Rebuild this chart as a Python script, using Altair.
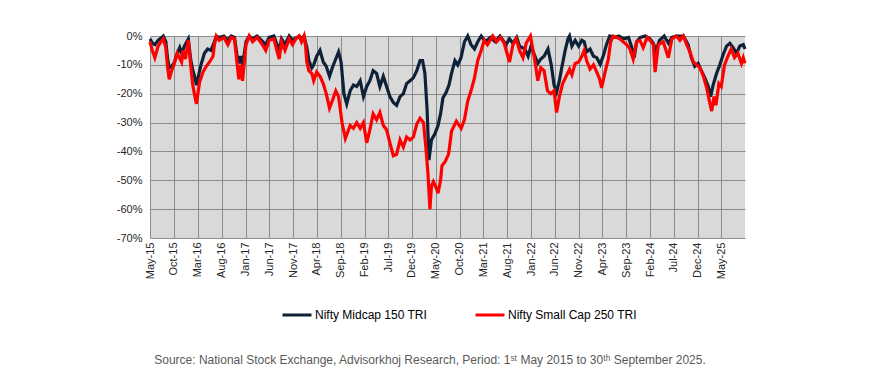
import altair as alt
import pandas as pd

# ---------------- data ----------------
series_names = ["Nifty Midcap 150 TRI", "Nifty Small Cap 250 TRI"]
series_colors = ["#0D2137", "#FF0000"]

mid_dates = [
    "2015-05-01", "2015-05-16", "2015-06-01", "2015-06-22", "2015-07-25", "2015-08-10", "2015-08-22",
    "2015-09-01", "2015-09-16", "2015-10-01", "2015-10-19", "2015-11-07", "2015-11-19", "2015-12-07",
    "2016-01-01", "2016-01-16", "2016-01-28", "2016-02-10", "2016-02-22", "2016-03-01", "2016-03-22",
    "2016-04-13", "2016-05-04", "2016-05-25", "2016-06-16", "2016-06-28", "2016-07-16", "2016-08-16",
    "2016-09-10", "2016-10-01", "2016-10-22", "2016-11-07", "2016-11-19", "2016-12-01", "2016-12-13",
    "2017-01-04", "2017-01-25", "2017-02-15", "2017-03-16", "2017-05-10", "2017-06-01", "2017-07-01",
    "2017-08-04", "2017-08-19", "2017-09-10", "2017-10-07", "2017-10-28", "2017-12-10", "2017-12-25",
    "2018-01-10", "2018-01-19", "2018-01-28", "2018-02-10", "2018-03-01", "2018-03-13", "2018-04-01",
    "2018-04-22", "2018-05-13", "2018-06-01", "2018-06-22", "2018-07-10", "2018-07-28", "2018-08-19",
    "2018-09-04", "2018-09-22", "2018-10-10", "2018-11-01", "2018-11-22", "2018-12-13", "2019-01-04",
    "2019-01-25", "2019-02-15", "2019-03-07", "2019-03-28", "2019-04-19", "2019-05-10", "2019-06-01",
    "2019-06-22", "2019-07-13", "2019-08-04", "2019-08-25", "2019-09-16", "2019-10-07", "2019-10-28",
    "2019-11-19", "2019-12-10", "2020-01-01", "2020-01-22", "2020-02-07", "2020-02-22", "2020-03-07",
    "2020-03-19", "2020-04-04", "2020-04-25", "2020-05-16", "2020-06-01", "2020-06-16", "2020-07-07",
    "2020-07-25", "2020-08-10", "2020-09-01", "2020-09-19", "2020-10-10", "2020-11-01", "2020-11-22",
    "2020-12-13", "2021-01-04", "2021-01-25", "2021-02-16", "2021-03-16", "2021-04-16", "2021-05-16",
    "2021-06-16", "2021-07-25", "2021-08-16", "2021-09-07", "2021-10-01", "2021-10-19", "2021-11-22",
    "2021-12-13", "2022-01-01", "2022-01-22", "2022-02-13", "2022-03-04", "2022-03-25", "2022-04-19",
    "2022-05-10", "2022-05-28", "2022-06-13", "2022-07-01", "2022-07-16", "2022-08-07", "2022-08-25",
    "2022-09-04", "2022-09-19", "2022-10-10", "2022-11-01", "2022-11-22", "2022-12-07", "2022-12-22",
    "2023-01-13", "2023-02-04", "2023-02-25", "2023-03-19", "2023-04-10", "2023-04-28", "2023-05-19",
    "2023-06-16", "2023-07-16", "2023-08-16", "2023-09-16", "2023-10-07", "2023-10-22", "2023-11-07",
    "2023-12-01", "2024-01-01", "2024-02-01", "2024-02-22", "2024-03-10", "2024-04-01", "2024-05-01",
    "2024-05-28", "2024-06-19", "2024-07-19", "2024-09-01", "2024-10-01", "2024-10-22", "2024-11-13",
    "2024-12-04", "2024-12-25", "2025-01-16", "2025-02-07", "2025-02-22", "2025-03-10", "2025-04-01",
    "2025-04-22", "2025-05-13", "2025-06-04", "2025-06-25", "2025-07-16", "2025-08-07", "2025-08-28",
    "2025-09-19", "2025-09-30",
]
mid_vals = [
    -1, -2.5, -3, -1.5, 0, -2, -8,
    -11, -10.5, -9.5, -6.5, -4, -6, -3.5,
    -1, -8, -11.5, -14, -17, -15, -10,
    -6, -4.5, -5, -2, 0, -0.5, 0,
    -1.5, 0, -0.5, -6.5, -9.5, -7, -10,
    -2, 0, -1, 0, -3, -0.5, 0,
    -5, -1, -3, 0, -1.5, 0, -1,
    0, -2, -4, -8.5, -11, -10, -7,
    -5, -9, -10.5, -14, -11, -8.5, -5.5,
    -9, -20, -23.5, -19, -17, -17.5, -15.5,
    -21, -17.5, -15.5, -12, -13, -17.5, -14,
    -17.5, -21, -23, -24, -21, -20, -16.5,
    -15.5, -14.5, -12, -8.5, -8.5, -13, -25.5,
    -43, -36, -34, -31, -27, -21.5, -19.5,
    -17, -13, -8.5, -10, -7.5, -2, 0,
    -3, -4.5, -2, 0, -2, -0.5, -2,
    0, -3, -1, -2.5, -0.5, -3.5, -4.5,
    -7, -3.5, -6.5, -9.5, -8, -7, -4.5,
    -10, -17, -19.5, -15.5, -11, -5, -1,
    0, -3.5, -1.5, -3.5, -1.5, -2, -5.5,
    -4.5, -7, -7.5, -9.8, -6.5, -3, 0,
    -0.5, 0, -1, -0.5, -4, -7.5, -2,
    -0.5, 0, -1, -2.5, -5, -1.5, 0,
    -2.5, -0.5, 0, 0, -3, -7.5, -10.5,
    -9.5, -12, -14.5, -17.5, -21, -17, -13,
    -10, -6.5, -3.5, -2.5, -4, -6, -3.5,
    -3, -4.5,
]

small_dates = [
    "2015-05-01", "2015-05-16", "2015-06-01", "2015-06-22", "2015-07-10", "2015-07-25", "2015-08-10",
    "2015-08-22", "2015-09-01", "2015-09-16", "2015-10-01", "2015-10-22", "2015-11-19", "2015-11-28",
    "2015-12-13", "2016-01-01", "2016-01-16", "2016-01-28", "2016-02-12", "2016-02-22", "2016-03-13",
    "2016-04-04", "2016-04-25", "2016-05-16", "2016-06-07", "2016-06-16", "2016-06-28", "2016-07-16",
    "2016-08-16", "2016-09-10", "2016-10-01", "2016-10-22", "2016-11-07", "2016-11-19", "2016-12-01",
    "2016-12-13", "2017-01-04", "2017-01-25", "2017-02-15", "2017-03-16", "2017-04-13", "2017-05-10",
    "2017-06-01", "2017-07-01", "2017-08-04", "2017-08-19", "2017-09-10", "2017-10-07", "2017-10-28",
    "2017-11-19", "2017-12-10", "2017-12-25", "2018-01-10", "2018-01-19", "2018-01-28", "2018-02-10",
    "2018-03-01", "2018-03-13", "2018-04-01", "2018-04-22", "2018-05-13", "2018-06-01", "2018-06-22",
    "2018-07-13", "2018-08-01", "2018-08-19", "2018-09-10", "2018-10-01", "2018-11-01", "2018-11-22",
    "2018-12-13", "2019-01-04", "2019-01-25", "2019-02-15", "2019-03-07", "2019-03-28", "2019-04-19",
    "2019-05-10", "2019-06-01", "2019-06-22", "2019-07-13", "2019-08-04", "2019-08-25", "2019-09-16",
    "2019-10-07", "2019-10-28", "2019-11-19", "2019-12-10", "2020-01-01", "2020-01-22", "2020-02-13",
    "2020-02-27", "2020-03-13", "2020-03-25", "2020-04-04", "2020-04-16", "2020-05-07", "2020-05-16",
    "2020-06-01", "2020-06-10", "2020-07-01", "2020-07-22", "2020-08-01", "2020-08-10", "2020-09-10",
    "2020-10-11", "2020-11-01", "2020-11-22", "2020-12-13", "2021-01-04", "2021-01-25", "2021-02-16",
    "2021-03-07", "2021-03-28", "2021-05-01", "2021-05-25", "2021-06-19", "2021-07-13", "2021-08-16",
    "2021-09-07", "2021-09-28", "2021-10-19", "2021-11-10", "2021-12-01", "2021-12-28", "2022-01-22",
    "2022-02-13", "2022-03-04", "2022-03-25", "2022-04-16", "2022-05-07", "2022-05-28", "2022-06-13",
    "2022-07-01", "2022-07-22", "2022-08-13", "2022-09-04", "2022-09-19", "2022-10-10", "2022-11-01",
    "2022-11-22", "2022-12-07", "2022-12-22", "2023-01-13", "2023-02-04", "2023-02-25", "2023-03-16",
    "2023-03-28", "2023-04-19", "2023-05-10", "2023-05-25", "2023-06-10", "2023-07-22", "2023-09-04",
    "2023-09-25", "2023-10-16", "2023-11-07", "2023-11-28", "2023-12-19", "2024-01-13", "2024-02-01",
    "2024-02-22", "2024-03-04", "2024-03-25", "2024-04-25", "2024-05-28", "2024-06-19", "2024-07-19",
    "2024-08-10", "2024-09-01", "2024-09-22", "2024-10-13", "2024-11-04", "2024-11-25", "2024-12-16",
    "2025-01-07", "2025-01-28", "2025-02-16", "2025-03-01", "2025-03-16", "2025-03-28", "2025-04-16",
    "2025-05-01", "2025-05-22", "2025-06-13", "2025-07-04", "2025-07-25", "2025-08-16", "2025-09-07",
    "2025-09-19", "2025-09-30",
]
small_vals = [
    -2, -5, -7.5, -3.5, -2, -1, -4,
    -11, -15, -12, -10, -6, -9, -5,
    -8, -1.5, -10, -16.5, -21, -23.5, -16,
    -12.5, -10.5, -9, -7, -3, 0, -1.5,
    -0.5, -3, -0.5, -1, -9, -15, -10,
    -15.5, -3, 0, -2, -0.5, -2.5, -5,
    -1.5, -1, -8, -2, -5, -1, -3,
    -1, 0, -2, 0, -3, -9, -12,
    -13, -15.5, -12.5, -14, -16.5, -20, -25,
    -22, -19, -21, -30, -35.5, -31, -32,
    -30, -32, -30, -37, -32.5, -27, -29,
    -26.5, -31, -32.5, -37, -41.5, -41, -36,
    -38.5, -35, -36, -35, -30.5, -28.5, -30,
    -38, -48, -60, -52, -50.5, -53, -54.5,
    -50, -45, -43.5, -41, -37, -33, -29.5,
    -32, -29, -22.5, -19, -14.5, -8.5, -5,
    -1.5, -3, 0, -2, -0.5, -2.5, -9,
    -3, -1, -5, -7.5, -2.5, 0, -7.5,
    -15.5, -11, -12, -19, -20, -19, -26.5,
    -21, -16.5, -14, -11.5, -13.5, -9.5, -9,
    -7, -5, -8.5, -11.5, -10, -12.5, -15,
    -18, -12.5, -8, -2, 0, -1, -3,
    -4.5, -8, -2, -1.5, -4, -0.5, -1.5,
    -3, -12.5, -3, -2, -7.5, -1, 0,
    -1.5, 0, -3, -5.5, -9, -10, -11,
    -14, -18, -23, -26, -21, -24, -16.5,
    -17.5, -10, -7, -4.5, -7.5, -6, -9.5,
    -7.5, -9.5,
]

x_tick_dates = [
    "2015-05-01", "2015-10-01", "2016-03-01", "2016-08-01", "2017-01-01", "2017-06-01", "2017-11-01",
    "2018-04-01", "2018-09-01", "2019-02-01", "2019-07-01", "2019-12-01", "2020-05-01", "2020-10-01",
    "2021-03-01", "2021-08-01", "2022-01-01", "2022-06-01", "2022-11-01", "2023-04-01", "2023-09-01",
    "2024-02-01", "2024-07-01", "2024-12-01", "2025-05-01",
]
x_domain = ["2015-05-01", "2025-09-30"]
y_ticks = [0, -10, -20, -30, -40, -50, -60, -70]

source_text = ("Source: National Stock Exchange, Advisorkhoj Research, Period: "
               "1\u02e2\u1d57 May 2015 to 30\u1d57\u02b0 September 2025.")

# ---------------- build tables ----------------
mid_df = pd.DataFrame({"date": pd.to_datetime(mid_dates), "value": mid_vals, "series": series_names[0]})
small_df = pd.DataFrame({"date": pd.to_datetime(small_dates), "value": small_vals, "series": series_names[1]})


def to_dt(s):
    t = pd.Timestamp(s)
    return alt.DateTime(year=t.year, month=t.month, date=t.day)


x_enc = alt.X(
    "date:T",
    scale=alt.Scale(domain=[to_dt(d) for d in x_domain]),
    axis=alt.Axis(
        values=[to_dt(d) for d in x_tick_dates],
        format="%b-%y",
        labelAngle=270,
        title=None,
        grid=True,
        ticks=False,
        domain=False,
        labelPadding=4,
    ),
)
y_enc = alt.Y(
    "value:Q",
    scale=alt.Scale(domain=[-70, 0], nice=False),
    axis=alt.Axis(
        values=y_ticks,
        labelExpr="datum.value + '%'",
        title=None,
        grid=True,
        ticks=False,
        domain=False,
        labelPadding=8,
    ),
)
color_enc = alt.Color(
    "series:N",
    scale=alt.Scale(domain=series_names, range=series_colors),
    legend=alt.Legend(
        title=None,
        orient="none",
        direction="horizontal",
        legendX=131,
        legendY=263,
        symbolType="stroke",
        symbolStrokeWidth=3,
        symbolSize=841,
        labelFontSize=12,
        labelColor="#000000",
        labelOffset=2,
        columnPadding=41,
        padding=0,
    ),
)

mid_line = alt.Chart(mid_df).mark_line(strokeWidth=3.2, interpolate="linear").encode(
    x=x_enc, y=y_enc, color=color_enc
)
small_line = alt.Chart(small_df).mark_line(strokeWidth=3.2, interpolate="linear").encode(
    x=x_enc, y=y_enc, color=color_enc
)
source = alt.Chart(pd.DataFrame({"t": [source_text]})).mark_text(
    align="center", baseline="middle", fontSize=12, color="#595959"
).encode(text="t:N", x=alt.value(280), y=alt.value(324))

chart = (
    alt.layer(mid_line, small_line, source)
    .properties(
        width=595,
        height=202,
        padding={"left": 142, "top": 28, "right": 125, "bottom": 144},
        autosize=alt.AutoSizeParams(type="none"),
        background="#FFFFFF",
    )
    .configure(font="Liberation Sans")
    .configure_view(fill="#D9D9D9", strokeWidth=0)
    .configure_axis(
        gridColor="#8C8C8C",
        gridWidth=1,
        gridOpacity=1,
        labelFontSize=11,
        labelColor="#262626",
        labelFont="Liberation Sans",
    )
)

chart.save("out.html", embed_options={"renderer": "svg", "actions": False})
